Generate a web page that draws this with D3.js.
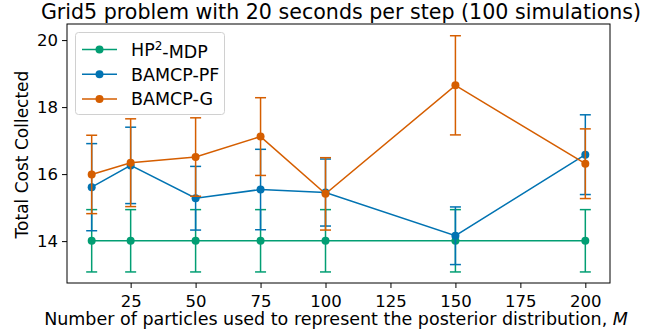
<!DOCTYPE html>
<html><head><meta charset="utf-8">
<script src="https://cdn.jsdelivr.net/npm/d3@7"></script>
<style>body{margin:0;background:#fff}svg{display:block}text{font-family:"DejaVu Sans",sans-serif;fill:#000}</style>
</head><body><svg id="c" width="665" height="331"></svg>
<script>
const xValues = [10, 25, 50, 75, 100, 150, 200];
const hpMean = [14.01, 14.01, 14.01, 14.01, 14.01, 14.01, 14.01];
const hpErr  = [0.93, 0.93, 0.93, 0.93, 0.93, 0.93, 0.93];
const pfMean = [15.61, 16.26, 15.28, 15.54, 15.45, 14.16, 16.58];
const pfErr  = [1.30, 1.14, 0.95, 1.20, 1.00, 0.86, 1.19];
const gMean  = [15.99, 16.34, 16.51, 17.12, 15.41, 18.65, 16.31];
const gErr   = [1.17, 1.31, 1.17, 1.16, 1.08, 1.48, 1.04];
const xTicks = [25, 50, 75, 100, 125, 150, 175, 200];
const yTicks = [14, 16, 18, 20];
const seriesNames = ["HP\u00b2-MDP", "BAMCP-PF", "BAMCP-G"];
const seriesColors = ["#029E73", "#0173B2", "#D55E00"];

const svg = d3.select("#c");
const L = 67, R = 610, T = 24, B = 283;
const x = d3.scaleLinear().domain([0.5, 209.5]).range([L, R]);
const y = d3.scaleLinear().domain([12.75, 20.48]).range([B, T]);

// axes
const xAxis = svg.append("g").attr("transform", `translate(0,${B})`)
  .call(d3.axisBottom(x).tickValues(xTicks).tickSize(5).tickPadding(4).tickFormat(d3.format("d")));
const yAxis = svg.append("g").attr("transform", `translate(${L},0)`)
  .call(d3.axisLeft(y).tickValues(yTicks).tickSize(5).tickPadding(4).tickFormat(d3.format("d")));
[xAxis, yAxis].forEach(a => {
  a.select(".domain").remove();
  a.selectAll("text").style("font-size", "16.5px").style("font-family", "DejaVu Sans");
  a.selectAll("line").attr("stroke", "#000").attr("stroke-width", 1);
});
xAxis.selectAll("text").attr("dy", "0.9em");

const series = [
  {name: seriesNames[0], color: seriesColors[0], mean: hpMean, err: hpErr},
  {name: seriesNames[1], color: seriesColors[1], mean: pfMean, err: pfErr},
  {name: seriesNames[2], color: seriesColors[2], mean: gMean, err: gErr}
];
const capW = 5.5;
series.forEach(s => {
  const g = svg.append("g");
  const pts = xValues.map((v, i) => ({x: v, m: s.mean[i], e: s.err[i]}));
  pts.forEach(p => {
    g.append("line").attr("x1", x(p.x)).attr("x2", x(p.x)).attr("y1", y(p.m - p.e)).attr("y2", y(p.m + p.e))
      .attr("stroke", s.color).attr("stroke-width", 1.5);
    [p.m - p.e, p.m + p.e].forEach(v => g.append("line").attr("x1", x(p.x) - capW).attr("x2", x(p.x) + capW)
      .attr("y1", y(v)).attr("y2", y(v)).attr("stroke", s.color).attr("stroke-width", 1.5));
  });
  g.append("path").datum(pts).attr("fill", "none").attr("stroke", s.color).attr("stroke-width", 1.5)
    .attr("d", d3.line().x(d => x(d.x)).y(d => y(d.m)));
  g.selectAll("circle").data(pts).join("circle").attr("cx", d => x(d.x)).attr("cy", d => y(d.m)).attr("r", 4)
    .attr("fill", s.color);
});

// frame
svg.append("rect").attr("x", L).attr("y", T).attr("width", R - L).attr("height", B - T)
  .attr("fill", "none").attr("stroke", "#000").attr("stroke-width", 1);

// legend
const lg = svg.append("g");
lg.append("rect").attr("x", 75.5).attr("y", 32.5).attr("width", 149).attr("height", 82).attr("rx", 3)
  .attr("fill", "#fff").attr("fill-opacity", 0.8).attr("stroke", "#d0d0d0");
series.forEach((s, i) => {
  const yy = 49.5 + i * 24.8;
  lg.append("line").attr("x1", 82).attr("x2", 117).attr("y1", yy).attr("y2", yy).attr("stroke", s.color).attr("stroke-width", 1.5);
  lg.append("circle").attr("cx", 99.5).attr("cy", yy).attr("r", 4).attr("fill", s.color);
  const t = lg.append("text").attr("x", 131).attr("y", yy).attr("dy", "0.36em").style("font-size", "17.5px");
  if (i === 0) {
    t.append("tspan").text("HP");
    t.append("tspan").text("2").attr("dy", "-0.45em").style("font-size", "12px");
    t.append("tspan").text("-MDP").attr("dy", "0.45em");
  } else t.text(s.name);
});

// title & labels
svg.append("text").attr("x", 341).attr("y", 19).attr("text-anchor", "middle").style("font-size", "20.6px")
  .text("Grid5 problem with 20 seconds per step (100 simulations)");
const xl = svg.append("text").attr("x", 336).attr("y", 325).attr("text-anchor", "middle").style("font-size", "17.5px");
xl.append("tspan").text("Number of particles used to represent the posterior distribution, ");
xl.append("tspan").text("M").style("font-style", "italic");
svg.append("text").attr("transform", `translate(28,${(T + B) / 2 + 1}) rotate(-90)`).attr("text-anchor", "middle")
  .style("font-size", "17px").text("Total Cost Collected");
</script></body></html>
